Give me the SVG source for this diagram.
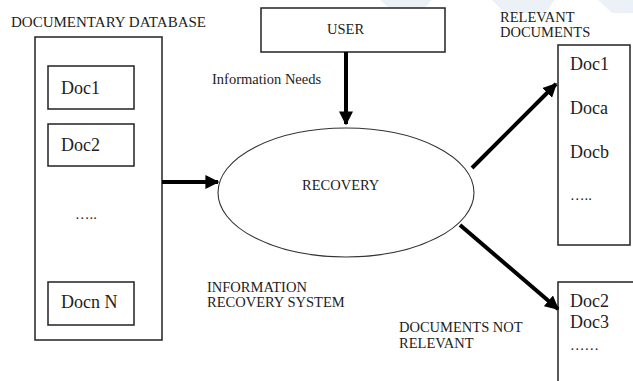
<svg xmlns="http://www.w3.org/2000/svg" width="633" height="381" viewBox="0 0 633 381">
<defs>
<style>
.box{fill:#fff;stroke:#222;stroke-width:1.5}
text{font-family:'Liberation Serif','Times New Roman','DejaVu Serif',serif;fill:#222}
.s{font-size:14.5px}
.d{font-size:18px}
.c{stroke:#000;stroke-width:4;fill:none}
.wm{fill:#dfe7f2;opacity:0.6}
</style>
<marker id="ah" viewBox="0 0 10 10" refX="9" refY="5" markerWidth="3.5" markerHeight="3.5" orient="auto" markerUnits="strokeWidth">
<path d="M0,0 L10,5 L0,10 z" fill="#000"/>
</marker>
</defs>
<rect width="633" height="381" fill="#fff"/>
<g id="watermark">
<polygon class="wm" points="380,0 432,0 420,13 395,13"/>
<polygon class="wm" points="492,0 555,0 545,13 505,13"/>
<polygon class="wm" points="598,0 633,0 633,13 612,13"/>
</g>
<text x="11" y="27" font-family="Liberation Serif, serif" font-size="15">DOCUMENTARY DATABASE</text>
<g id="database">
<rect class="box" x="35" y="37" width="127" height="303"/>
<g id="doc1"><rect class="box" x="48" y="66" width="86" height="43"/><text class="d" x="61" y="94" font-family="Liberation Serif, serif">Doc1</text></g>
<g id="doc2"><rect class="box" x="48" y="124" width="86" height="42"/><text class="d" x="61" y="151" font-family="Liberation Serif, serif">Doc2</text></g>
<text class="s" x="75" y="219" font-family="Liberation Serif, serif">…..</text>
<g id="docn"><rect class="box" x="48" y="282" width="86" height="43"/><text class="d" x="61" y="308" font-family="Liberation Serif, serif">Docn N</text></g>
</g>
<g id="user">
<rect class="box" x="261" y="8" width="184" height="44"/>
<text class="s" x="327" y="34" font-family="Liberation Serif, serif">USER</text>
</g>
<text class="s" x="212" y="84" font-family="Liberation Serif, serif">Information Needs</text>
<g id="recovery">
<ellipse cx="346" cy="192.5" rx="128" ry="64.5" fill="#fff" stroke="#333" stroke-width="1.1"/>
<text class="s" x="302" y="190" font-family="Liberation Serif, serif">RECOVERY</text>
</g>
<text class="s" x="207" y="292" font-family="Liberation Serif, serif">INFORMATION</text>
<text class="s" x="207" y="307" font-family="Liberation Serif, serif">RECOVERY SYSTEM</text>
<text class="s" x="500" y="22" font-family="Liberation Serif, serif">RELEVANT</text>
<text class="s" x="500" y="37" font-family="Liberation Serif, serif">DOCUMENTS</text>
<g id="relevant">
<rect class="box" x="558" y="45" width="72" height="200"/>
<text class="d" x="570" y="70" font-family="Liberation Serif, serif">Doc1</text>
<text class="d" x="570" y="114" font-family="Liberation Serif, serif">Doca</text>
<text class="d" x="570" y="158" font-family="Liberation Serif, serif">Docb</text>
<text class="s" x="570" y="200" font-family="Liberation Serif, serif">…..</text>
</g>
<text class="s" x="399" y="332" font-family="Liberation Serif, serif">DOCUMENTS NOT</text>
<text class="s" x="399" y="348" font-family="Liberation Serif, serif">RELEVANT</text>
<g id="notrelevant">
<rect class="box" x="558" y="282" width="90" height="110"/>
<text class="d" x="570" y="307" font-family="Liberation Serif, serif">Doc2</text>
<text class="d" x="570" y="328" font-family="Liberation Serif, serif">Doc3</text>
<text class="s" x="570" y="350" font-family="Liberation Serif, serif">……</text>
</g>
<g id="connectors">
<line class="c" x1="162" y1="182" x2="218" y2="182" marker-end="url(#ah)"/>
<line class="c" x1="346" y1="52" x2="346" y2="124" marker-end="url(#ah)"/>
<line class="c" x1="472" y1="168" x2="556" y2="84" marker-end="url(#ah)"/>
<line class="c" x1="460" y1="225" x2="558" y2="309" marker-end="url(#ah)"/>
</g>
</svg>
